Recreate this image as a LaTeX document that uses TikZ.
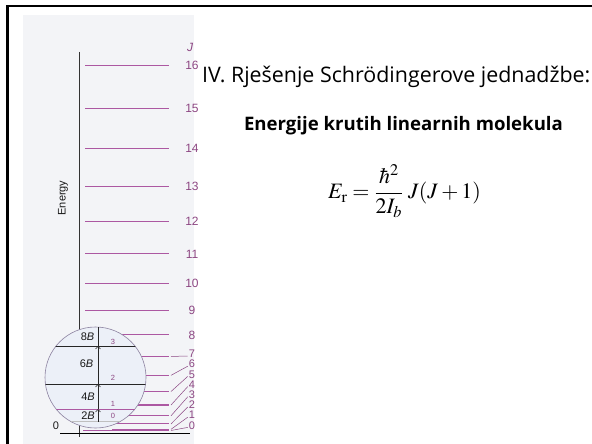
\documentclass[tikz,border=0pt]{standalone}
\usepackage{amsmath}
\usepackage{mathptmx}
\usepackage{fontspec}
\newfontfamily\slidefont{Open Sans}
\newfontfamily\figfont{Liberation Sans}
\usepackage{tikz}
\usetikzlibrary{arrows.meta}

\definecolor{levcol}{RGB}{172,88,162}
\definecolor{labcol}{RGB}{140,70,130}
\definecolor{panelcol}{RGB}{243,244,247}
\definecolor{lenscol}{RGB}{236,240,248}
\definecolor{lensedge}{RGB}{140,130,160}

\begin{document}
\begin{tikzpicture}[
  x=1pt, y=-1pt,
  every node/.style = {font=\figfont, inner sep=1pt},
  level/.style      = {draw=levcol, line width=1.1pt},
  jlab/.style       = {text=labcol, inner sep=0pt, font=\figfont\fontsize{12}{12}\selectfont},
  jsmall/.style     = {jlab, font=\figfont\fontsize{11}{11}\selectfont},
  leader/.style     = {draw=levcol!80!black, line width=0.5pt},
  lenstext/.style   = {text=gray!20!black, font=\figfont\fontsize{11}{11}\selectfont},
  lensnum/.style    = {text=labcol, inner sep=0pt, font=\figfont\fontsize{7.5}{7.5}\selectfont},
  stepline/.style   = {gray!30!black, line width=0.6pt},
  steparrow/.style  = {stepline, -{Straight Barb[length=2.5pt,width=5pt]}}
]
\useasboundingbox (0,0) rectangle (592,444);

% slide frame and figure panel
\draw[line width=2.5pt] (7.5,444) -- (7.5,6) -- (592,6);
\fill[panelcol] (23,15) rectangle (194,444);

% energy axis
\draw[gray!40!black, line width=0.7pt] (79,52) -- (79,437);
\node[lenstext, rotate=90] (energy) at (63,198) {Energy};
\node[jlab] (jhead) at (190,47) {\itshape J};

% rotational levels E = B J(J+1)
\foreach \j in {8,...,16}{
  \pgfmathsetmacro{\ly}{432-1.349*\j*(\j+1)}
  \draw[level] (85,\ly) -- (169,\ly);
  \node[jlab] (lab\j) at (192,\ly) {\j};
}
\foreach \j in {1,...,7}{
  \pgfmathsetmacro{\ly}{432-1.349*\j*(\j+1)}
  \pgfmathsetmacro{\lx}{\j==1 ? 112 : 85}
  \pgfmathsetmacro{\ty}{354+10.2*(7-\j)}
  \draw[level] (\lx,\ly) -- (169,\ly);
  \coordinate (lvl\j) at (171,\ly);
  \node[jsmall] (lab\j) at (192,\ty) {\j};
  \draw[leader] (lvl\j) -- ([xshift=-1pt,yshift=-2pt]lab\j.west);
}
\draw[level] (83,430.5) -- (169,430.5);
\coordinate (lvl0) at (171,430.5);
\node[jsmall] (lab0) at (192,425.4) {0};
\draw[leader] (lvl0) -- ([xshift=-1pt,yshift=-2pt]lab0.west);

% ground line
\draw[black, line width=0.8pt] (60,433.5) -- (190,433.5);
\node[lenstext] (zero) at (56,426) {0};

% magnified lens
\draw[lensedge, line width=0.6pt, fill=lenscol] (95.5,377.5) circle[radius=50.5];
\begin{scope}
  \clip (95.5,377.5) circle[radius=50.5];
  \draw[stepline] (40,346) -- (150,346);
  \draw[stepline] (40,384) -- (150,384);
  \draw[levcol, line width=0.7pt] (40,409) -- (150,409);
  \draw[gray!50, line width=0.9pt] (71,421.5) -- (120,421.5);
\end{scope}

\coordinate (m0) at (98,421.5);
\coordinate (m1) at (98,409);
\coordinate (m2) at (98,384);
\coordinate (m3) at (98,346);
\coordinate (mtop) at (98,327);
\draw[steparrow] (m0) -- (m1);
\draw[steparrow] (m1) -- (m2);
\draw[steparrow] (m2) -- (m3);
\draw[stepline] (m3) -- (mtop);

\node[lenstext] (gap8) at (87.5,337) {8\textit{B}};
\node[lenstext] (gap6) at (86.5,364) {6\textit{B}};
\node[lenstext] (gap4) at (88,397)   {4\textit{B}};
\node[lenstext] (gap2) at (88,416)   {2\textit{B}};
\node[lensnum] (n3) at (113,342) {3};
\node[lensnum] (n2) at (113,378) {2};
\node[lensnum] (n1) at (113,404) {1};
\node[lensnum] (n0) at (113,416) {0};

% slide text
\node[anchor=base west, font=\slidefont\fontsize{21.4}{21.4}\selectfont] (title) at (201,82)
  {IV. Rješenje Schrödingerove jednadžbe:};
\node[anchor=base, font=\slidefont\bfseries\fontsize{18.6}{18.6}\selectfont] (subtitle) at (403.5,130)
  {Energije krutih linearnih molekula};
\node[anchor=west, font=\fontsize{22}{22}\selectfont] (formula) at (327,191)
  {$E_{\mathrm{r}}=\displaystyle\frac{\hbar^2}{2I_b}\;J(J+1)$};
\end{tikzpicture}
\end{document}
